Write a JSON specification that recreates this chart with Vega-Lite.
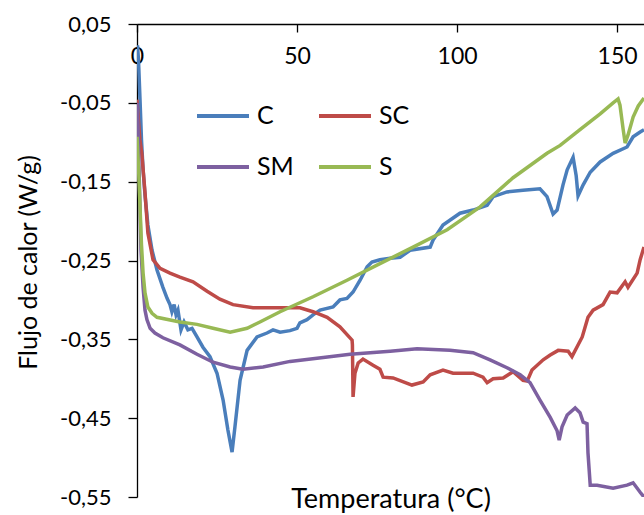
{
  "$schema": "https://vega.github.io/schema/vega-lite/v6.json",
  "autosize": "none",
  "padding": {"left": 137, "top": 24, "right": 0, "bottom": 18},
  "width": 507,
  "height": 473,
  "background": "white",
  "config": {
    "view": {"stroke": null},
    "font": "Lato",
    "axis": {"grid": false, "domainColor": "black", "tickColor": "black", "domainWidth": 1.3, "tickWidth": 1.3, "labelColor": "black", "titleColor": "black", "labelFont": "Lato", "titleFont": "Lato", "titleFontWeight": "normal"}
  },
  "data": {"values": [
    {"s":"C","x":0.16,"y":0.023},{"s":"C","x":0.47,"y":0.004},{"s":"C","x":0.94,"y":-0.046},{"s":"C","x":1.4,"y":-0.097},{"s":"C","x":1.9,"y":-0.135},{"s":"C","x":2.5,"y":-0.167},{"s":"C","x":3.4,"y":-0.205},{"s":"C","x":4.7,"y":-0.237},{"s":"C","x":6.25,"y":-0.262},{"s":"C","x":8.1,"y":-0.284},{"s":"C","x":9.4,"y":-0.298},{"s":"C","x":10.3,"y":-0.306},{"s":"C","x":10.9,"y":-0.315},{"s":"C","x":11.6,"y":-0.306},{"s":"C","x":12.2,"y":-0.319},{"s":"C","x":12.8,"y":-0.313},{"s":"C","x":13.75,"y":-0.338},{"s":"C","x":14.7,"y":-0.328},{"s":"C","x":15.9,"y":-0.338},{"s":"C","x":17.2,"y":-0.336},{"s":"C","x":18.75,"y":-0.347},{"s":"C","x":20.6,"y":-0.36},{"s":"C","x":22.8,"y":-0.372},{"s":"C","x":25,"y":-0.393},{"s":"C","x":26.9,"y":-0.427},{"s":"C","x":28.4,"y":-0.465},{"s":"C","x":29.7,"y":-0.493},{"s":"C","x":30.6,"y":-0.461},{"s":"C","x":32.2,"y":-0.402},{"s":"C","x":34.4,"y":-0.364},{"s":"C","x":37.5,"y":-0.347},{"s":"C","x":40.6,"y":-0.342},{"s":"C","x":42.5,"y":-0.338},{"s":"C","x":44.7,"y":-0.341},{"s":"C","x":47.8,"y":-0.339},{"s":"C","x":50,"y":-0.336},{"s":"C","x":50.9,"y":-0.329},{"s":"C","x":53.1,"y":-0.325},{"s":"C","x":55,"y":-0.319},{"s":"C","x":57.2,"y":-0.313},{"s":"C","x":61.25,"y":-0.309},{"s":"C","x":63.4,"y":-0.3},{"s":"C","x":65.6,"y":-0.298},{"s":"C","x":67.5,"y":-0.29},{"s":"C","x":69.7,"y":-0.275},{"s":"C","x":71.9,"y":-0.258},{"s":"C","x":73.4,"y":-0.252},{"s":"C","x":75.9,"y":-0.249},{"s":"C","x":79.1,"y":-0.247},{"s":"C","x":82.2,"y":-0.246},{"s":"C","x":85.3,"y":-0.237},{"s":"C","x":91.6,"y":-0.233},{"s":"C","x":92.5,"y":-0.224},{"s":"C","x":95.6,"y":-0.205},{"s":"C","x":100.9,"y":-0.19},{"s":"C","x":105,"y":-0.186},{"s":"C","x":109.4,"y":-0.18},{"s":"C","x":111.25,"y":-0.169},{"s":"C","x":115.6,"y":-0.163},{"s":"C","x":120.6,"y":-0.161},{"s":"C","x":125.9,"y":-0.159},{"s":"C","x":128.1,"y":-0.169},{"s":"C","x":130,"y":-0.191},{"s":"C","x":131.25,"y":-0.186},{"s":"C","x":133.1,"y":-0.154},{"s":"C","x":134.4,"y":-0.135},{"s":"C","x":136.25,"y":-0.119},{"s":"C","x":137.2,"y":-0.142},{"s":"C","x":137.8,"y":-0.168},{"s":"C","x":139.4,"y":-0.154},{"s":"C","x":141.6,"y":-0.138},{"s":"C","x":144.7,"y":-0.125},{"s":"C","x":148.75,"y":-0.114},{"s":"C","x":153.1,"y":-0.106},{"s":"C","x":155,"y":-0.093},{"s":"C","x":157.2,"y":-0.087},{"s":"C","x":158.4,"y":-0.084},

    {"s":"SC","x":0,"y":-0.046},{"s":"SC","x":0.3,"y":-0.063},{"s":"SC","x":0.9,"y":-0.097},{"s":"SC","x":1.5,"y":-0.114},{"s":"SC","x":2.5,"y":-0.164},{"s":"SC","x":3.4,"y":-0.215},{"s":"SC","x":5,"y":-0.249},{"s":"SC","x":7.2,"y":-0.26},{"s":"SC","x":10.3,"y":-0.266},{"s":"SC","x":13.4,"y":-0.271},{"s":"SC","x":17.5,"y":-0.277},{"s":"SC","x":21.9,"y":-0.289},{"s":"SC","x":25.9,"y":-0.299},{"s":"SC","x":30,"y":-0.306},{"s":"SC","x":36.25,"y":-0.31},{"s":"SC","x":44.7,"y":-0.31},{"s":"SC","x":50.9,"y":-0.31},{"s":"SC","x":55,"y":-0.315},{"s":"SC","x":59.4,"y":-0.322},{"s":"SC","x":63.4,"y":-0.334},{"s":"SC","x":67.2,"y":-0.351},{"s":"SC","x":67.3,"y":-0.357},{"s":"SC","x":67.5,"y":-0.423},{"s":"SC","x":68.1,"y":-0.393},{"s":"SC","x":69.1,"y":-0.38},{"s":"SC","x":70.6,"y":-0.375},{"s":"SC","x":73.75,"y":-0.383},{"s":"SC","x":75.9,"y":-0.388},{"s":"SC","x":76.9,"y":-0.398},{"s":"SC","x":80,"y":-0.399},{"s":"SC","x":85.9,"y":-0.408},{"s":"SC","x":89.4,"y":-0.404},{"s":"SC","x":91.6,"y":-0.395},{"s":"SC","x":95.6,"y":-0.389},{"s":"SC","x":98.75,"y":-0.393},{"s":"SC","x":103.1,"y":-0.393},{"s":"SC","x":105,"y":-0.393},{"s":"SC","x":108.1,"y":-0.398},{"s":"SC","x":109.4,"y":-0.405},{"s":"SC","x":111.25,"y":-0.4},{"s":"SC","x":114.4,"y":-0.399},{"s":"SC","x":117.5,"y":-0.391},{"s":"SC","x":120.6,"y":-0.402},{"s":"SC","x":121.9,"y":-0.403},{"s":"SC","x":123.4,"y":-0.389},{"s":"SC","x":126.9,"y":-0.376},{"s":"SC","x":129.1,"y":-0.37},{"s":"SC","x":131.6,"y":-0.364},{"s":"SC","x":134.7,"y":-0.365},{"s":"SC","x":135.9,"y":-0.372},{"s":"SC","x":139.1,"y":-0.347},{"s":"SC","x":140.9,"y":-0.322},{"s":"SC","x":142.5,"y":-0.313},{"s":"SC","x":145.6,"y":-0.306},{"s":"SC","x":147.8,"y":-0.29},{"s":"SC","x":150,"y":-0.291},{"s":"SC","x":152.5,"y":-0.277},{"s":"SC","x":153.4,"y":-0.284},{"s":"SC","x":156.25,"y":-0.266},{"s":"SC","x":157.2,"y":-0.249},{"s":"SC","x":158.4,"y":-0.233},

    {"s":"SM","x":0,"y":-0.05},{"s":"SM","x":0.3,"y":-0.078},{"s":"SM","x":0.8,"y":-0.161},{"s":"SM","x":1.25,"y":-0.237},{"s":"SM","x":1.9,"y":-0.284},{"s":"SM","x":2.5,"y":-0.313},{"s":"SM","x":3.1,"y":-0.325},{"s":"SM","x":4.1,"y":-0.336},{"s":"SM","x":5.6,"y":-0.342},{"s":"SM","x":8.1,"y":-0.348},{"s":"SM","x":13.4,"y":-0.357},{"s":"SM","x":18.75,"y":-0.369},{"s":"SM","x":23.75,"y":-0.379},{"s":"SM","x":29.1,"y":-0.385},{"s":"SM","x":33.1,"y":-0.388},{"s":"SM","x":39.4,"y":-0.385},{"s":"SM","x":47.8,"y":-0.378},{"s":"SM","x":56.25,"y":-0.374},{"s":"SM","x":66.6,"y":-0.369},{"s":"SM","x":79.1,"y":-0.365},{"s":"SM","x":87.5,"y":-0.362},{"s":"SM","x":97.8,"y":-0.364},{"s":"SM","x":105,"y":-0.367},{"s":"SM","x":110.3,"y":-0.376},{"s":"SM","x":115.6,"y":-0.386},{"s":"SM","x":119.7,"y":-0.395},{"s":"SM","x":122.8,"y":-0.405},{"s":"SM","x":125.9,"y":-0.427},{"s":"SM","x":129.1,"y":-0.449},{"s":"SM","x":131.25,"y":-0.466},{"s":"SM","x":131.9,"y":-0.478},{"s":"SM","x":132.8,"y":-0.461},{"s":"SM","x":134.4,"y":-0.446},{"s":"SM","x":136.9,"y":-0.437},{"s":"SM","x":138.4,"y":-0.443},{"s":"SM","x":139.4,"y":-0.455},{"s":"SM","x":140.6,"y":-0.457},{"s":"SM","x":140.9,"y":-0.494},{"s":"SM","x":141.6,"y":-0.535},{"s":"SM","x":143.75,"y":-0.535},{"s":"SM","x":148.75,"y":-0.539},{"s":"SM","x":153.1,"y":-0.535},{"s":"SM","x":155,"y":-0.532},{"s":"SM","x":157.2,"y":-0.544},{"s":"SM","x":158.4,"y":-0.55},

    {"s":"S","x":0,"y":-0.093},{"s":"S","x":0.5,"y":-0.135},{"s":"S","x":0.9,"y":-0.177},{"s":"S","x":1.4,"y":-0.23},{"s":"S","x":1.9,"y":-0.266},{"s":"S","x":2.5,"y":-0.291},{"s":"S","x":3.4,"y":-0.309},{"s":"S","x":4.7,"y":-0.317},{"s":"S","x":6.25,"y":-0.322},{"s":"S","x":13.4,"y":-0.328},{"s":"S","x":18.75,"y":-0.331},{"s":"S","x":23.75,"y":-0.336},{"s":"S","x":29.1,"y":-0.341},{"s":"S","x":34.4,"y":-0.336},{"s":"S","x":38.4,"y":-0.328},{"s":"S","x":44.7,"y":-0.315},{"s":"S","x":55,"y":-0.296},{"s":"S","x":65.6,"y":-0.275},{"s":"S","x":75.9,"y":-0.254},{"s":"S","x":86.25,"y":-0.233},{"s":"S","x":96.9,"y":-0.211},{"s":"S","x":107.2,"y":-0.182},{"s":"S","x":117.5,"y":-0.145},{"s":"S","x":128.1,"y":-0.114},{"s":"S","x":132.2,"y":-0.104},{"s":"S","x":138.4,"y":-0.084},{"s":"S","x":144.7,"y":-0.064},{"s":"S","x":148.75,"y":-0.05},{"s":"S","x":150.3,"y":-0.045},{"s":"S","x":150.9,"y":-0.053},{"s":"S","x":151.9,"y":-0.084},{"s":"S","x":152.5,"y":-0.101},{"s":"S","x":153.4,"y":-0.091},{"s":"S","x":155,"y":-0.068},{"s":"S","x":156.6,"y":-0.054},{"s":"S","x":158.4,"y":-0.044}
  ]},
  "mark": {"type": "line", "strokeWidth": 3.5, "clip": true},
  "encoding": {
    "x": {"field": "x", "type": "quantitative",
      "scale": {"domain": [0, 158.4], "nice": false, "zero": false},
      "axis": {"orient": "bottom", "offset": -473, "values": [0, 50, 100, 150], "tickSize": 8, "labelPadding": 13, "labelFontSize": 23, "labelFlush": false,
        "title": "Temperatura (°C)", "titleFontSize": 27, "titleY": 483, "titleBaseline": "alphabetic"}},
    "y": {"field": "y", "type": "quantitative",
      "scale": {"domain": [-0.55, 0.05], "nice": false, "zero": false},
      "axis": {"values": [0.05, -0.05, -0.15, -0.25, -0.35, -0.45, -0.55], "tickSize": 9, "labelPadding": 17, "labelFontSize": 22,
        "labelExpr": "replace(replace(format(datum.value, '.2f'), '.', ','), '\u2212', '-')",
        "title": "Flujo de calor (W/g)", "titleFontSize": 25, "titleX": -109, "titleY": 238, "titleBaseline": "middle", "titleAngle": -90}},
    "color": {"field": "s", "type": "nominal",
      "scale": {"domain": ["C", "SC", "SM", "S"], "range": ["#4A7EBB", "#BE4B48", "#7D60A0", "#98B954"]},
      "legend": {"title": null, "orient": "none", "legendX": 58, "legendY": 64, "columns": 2, "direction": "horizontal",
        "symbolType": "stroke", "symbolSize": 2704, "symbolStrokeWidth": 4, "labelFontSize": 25, "labelFont": "Lato", "labelColor": "black",
        "labelOffset": 6, "columnPadding": 17, "rowPadding": 10, "padding": 0}}
  }
}
